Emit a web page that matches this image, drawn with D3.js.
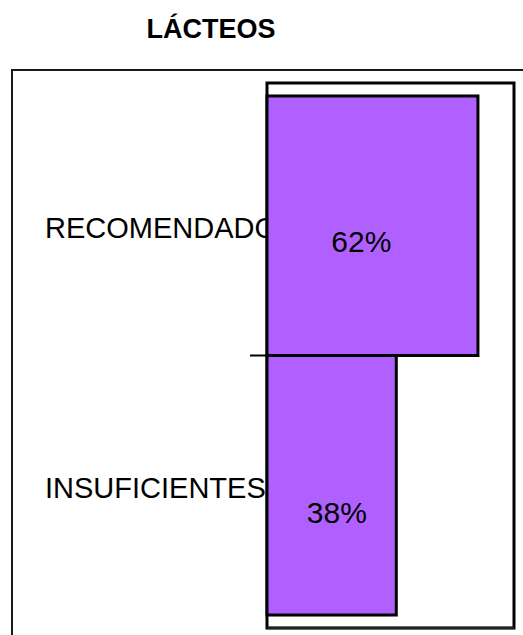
<!DOCTYPE html>
<html>
<head>
<meta charset="utf-8">
<script src="https://cdn.jsdelivr.net/npm/d3@7"></script>
<style>
  html, body { margin: 0; padding: 0; background: #fff; }
  svg { display: block; font-family: "Liberation Sans", Arial, sans-serif; }
</style>
</head>
<body>
<svg id="chart" width="523" height="635"></svg>
<script>
const title = "LÁCTEOS";
const categories = ["RECOMENDADO", "INSUFICIENTES"];
const values = [0.62, 0.38];
const valueLabels = ["62%", "38%"];

const W = 523, H = 635;
const svg = d3.select("#chart");

const plot = { left: 267, right: 514, top: 83, bottom: 628 };

const x = d3.scaleLinear().domain([0, 0.726]).range([plot.left, plot.right]);
const y = d3.scaleBand().domain(categories).range([plot.top, plot.bottom])
  .paddingInner(0).paddingOuter(0.05);

// outer chart frame (extends beyond the visible area on right/bottom)
svg.append("rect")
  .attr("x", 12).attr("y", 70)
  .attr("width", 530).attr("height", 600)
  .attr("fill", "#fff").attr("stroke", "#1a1a1a").attr("stroke-width", 2);

// title
svg.append("text")
  .attr("x", 211).attr("y", 38)
  .attr("text-anchor", "middle")
  .attr("font-size", 27).attr("font-weight", "bold")
  .attr("fill", "#000")
  .text(title);

// category labels (drawn under the bars so they get clipped)
svg.append("g").selectAll("text")
  .data(categories)
  .join("text")
  .attr("x", 45)
  .attr("y", d => y(d) + y.bandwidth() * 0.548)
  .attr("font-size", 29)
  .attr("fill", "#000")
  .text(d => d);

// plot area border
svg.append("rect")
  .attr("x", plot.left).attr("y", plot.top)
  .attr("width", plot.right - plot.left).attr("height", plot.bottom - plot.top)
  .attr("fill", "none").attr("stroke", "#000").attr("stroke-width", 3);
svg.append("line")
  .attr("x1", plot.left).attr("x2", plot.right)
  .attr("y1", plot.bottom).attr("y2", plot.bottom)
  .attr("stroke", "#222").attr("stroke-width", 2.5);

// bars
const data = categories.map((c, i) => ({ c, v: values[i], label: valueLabels[i] }));
svg.append("g").selectAll("rect")
  .data(data)
  .join("rect")
  .attr("x", x(0))
  .attr("y", d => y(d.c))
  .attr("width", d => x(d.v) - x(0))
  .attr("height", y.bandwidth())
  .attr("fill", "#B060FF")
  .attr("stroke", "#000")
  .attr("stroke-width", 3);

// tick between categories
svg.append("line")
  .attr("x1", x(0) - 17).attr("x2", x(0))
  .attr("y1", y(categories[1])).attr("y2", y(categories[1]))
  .attr("stroke", "#000").attr("stroke-width", 2);

// value labels
svg.append("g").selectAll("text")
  .data(data)
  .join("text")
  .attr("x", d => x(0) + (x(d.v) - x(0)) * 0.3 + 1)
  .attr("y", (d, i) => y(d.c) + y.bandwidth() * (i === 0 ? 0.60 : 0.645))
  .attr("font-size", 30)
  .attr("fill", "#000")
  .text(d => d.label);
</script>
</body>
</html>
